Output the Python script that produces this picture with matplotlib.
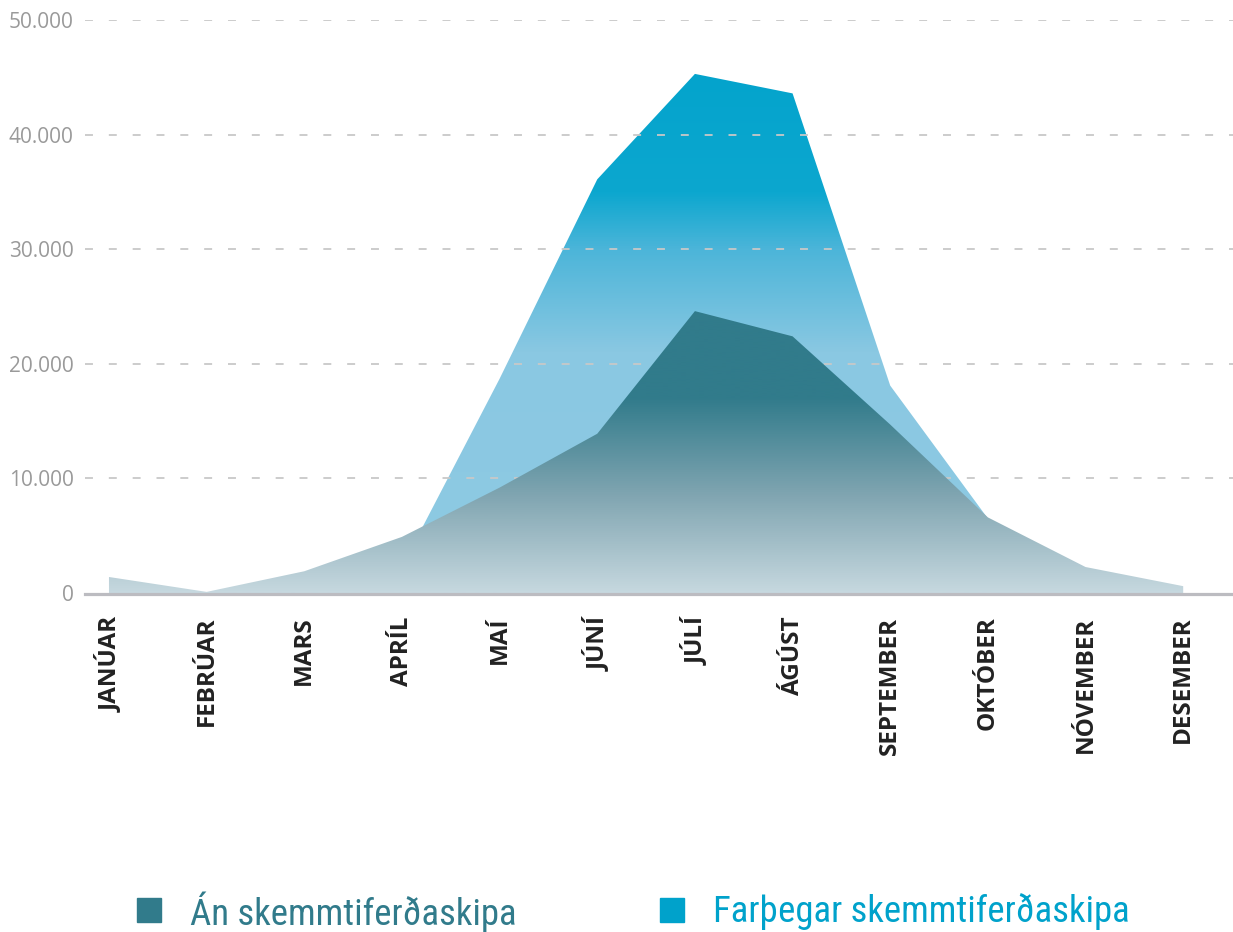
"""
Monthly passengers, with and without cruise ships (Icelandic labels).
Two overlaid area series with vertical colour gradients.

Output: out.png
"""

import numpy as np
import matplotlib
matplotlib.use("Agg")
import matplotlib.pyplot as plt
from matplotlib import font_manager
from matplotlib.colors import LinearSegmentedColormap
from matplotlib.patches import Rectangle
from matplotlib.ticker import FuncFormatter


MONTHS = ["JANÚAR", "FEBRÚAR", "MARS", "APRÍL", "MAÍ", "JÚNÍ",
          "JÚLÍ", "ÁGÚST", "SEPTEMBER", "OKTÓBER", "NÓVEMBER", "DESEMBER"]

# "Án skemmtiferðaskipa" (without cruise ships)
WITHOUT_CRUISE = [1400, 100, 1900, 4900, 9200, 13900,
                  24600, 22400, 14700, 6600, 2270, 600]
# "Farþegar skemmtiferðaskipa" (cruise ship passengers)
CRUISE = [0, 0, 0, 2300, 18700, 36100,
          45300, 43600, 18100, 6500, 0, 0]

Y_TICKS = [0, 10000, 20000, 30000, 40000, 50000]
Y_MAX = 50000

DARK = "#317b8b"
BLUE = "#00a2cb"


def gradient_area(ax, x, y, stops, zorder):
    """Fill under y with a vertical gradient (value -> colour stops)."""
    poly = ax.fill_between(x, 0, y, facecolor="none", edgecolor="none",
                           linewidth=0, zorder=zorder)
    cmap = LinearSegmentedColormap.from_list("g", stops)
    grad = np.linspace(0, 1, 512).reshape(-1, 1)
    x0, x1 = ax.get_xlim()
    im = ax.imshow(grad, cmap=cmap, aspect="auto", origin="lower",
                   extent=[x0, x1, 0, Y_MAX], zorder=zorder,
                   interpolation="bilinear")
    im.set_clip_path(poly.get_paths()[0], transform=ax.transData)
    return im


# narrow face for the legend if one is installed
names = {f.name for f in font_manager.fontManager.ttflist}
narrow = [n for n in ("Liberation Sans Narrow", "Roboto Condensed",
                      "DejaVu Sans Condensed") if n in names]
has_cond_dejavu = any(f.name == "DejaVu Sans" and f.stretch == "condensed"
                      for f in font_manager.fontManager.ttflist)

fig = plt.figure(figsize=(12.33, 9.32), dpi=100)
ax = fig.add_axes([0.0689, 0.3637, 0.9311, 0.6148])

x = np.arange(len(MONTHS))
ax.set_xlim(-0.246, 11.51)
ax.set_ylim(0, Y_MAX)

# cruise passengers: bright cyan on top fading to light blue below ~20k
gradient_area(ax, x, CRUISE, [
    (0.0, "#8ecae3"), (0.42, "#8ac8e2"), (0.60, "#4cb5d9"),
    (0.70, "#0ca7cf"), (1.0, BLUE)], zorder=1)

# grid sits between the two areas
for v in Y_TICKS[1:]:
    ax.axhline(v, color="#c8c8c8", lw=1.3, linestyle=(0, (4.4, 8.8)),
               zorder=2)

# without cruise ships: dark teal above ~17k fading to pale grey-blue
gradient_area(ax, x, WITHOUT_CRUISE, [
    (0.0, "#c6d8df"), (0.17, "#80a5b1"), (0.34, DARK), (1.0, DARK)],
    zorder=3)

ax.set_xlim(-0.246, 11.51)
ax.set_ylim(0, Y_MAX)

for side in ("top", "right", "left"):
    ax.spines[side].set_visible(False)
ax.spines["bottom"].set_color("#bcbcc1")
ax.spines["bottom"].set_linewidth(2.3)
ax.spines["bottom"].set_zorder(4)
ax.spines["bottom"].set_position(("outward", 1))

ax.set_yticks(Y_TICKS)
ax.yaxis.set_major_formatter(
    FuncFormatter(lambda v, _: f"{int(v):,}".replace(",", ".")))
ax.tick_params(axis="y", length=0, pad=8, labelcolor="#9a9a9a",
               labelsize=15)
for lab in ax.get_yticklabels():
    lab.set_family("Open Sans")

ax.set_xticks(x)
ax.set_xticklabels(MONTHS, rotation=90, fontsize=17.5, fontweight="bold",
                   color="#222222", family="Open Sans")
ax.tick_params(axis="x", length=0, pad=16)

# legend drawn by hand below the axes
W, H = 1233, 932
legend_items = [
    (137, 190, DARK, "Án skemmtiferðaskipa"),
    (660, 713, BLUE, "Farþegar skemmtiferðaskipa"),
]
for box_x, text_x, color, label in legend_items:
    fig.patches.append(Rectangle((box_x / W, 1 - 922 / H), 24 / W, 24 / H,
                                 transform=fig.transFigure, color=color))
    if narrow:
        kw = dict(family=[narrow[0], "DejaVu Sans"], fontsize=26.5)
    elif has_cond_dejavu:
        kw = dict(family="DejaVu Sans", fontstretch="condensed", fontsize=25)
    else:
        kw = dict(family="Roboto", fontsize=23)
    fig.text(text_x / W, 1 - 912 / H, label, color=color,
             va="center", ha="left", **kw)

fig.savefig("out.png", dpi=100)
